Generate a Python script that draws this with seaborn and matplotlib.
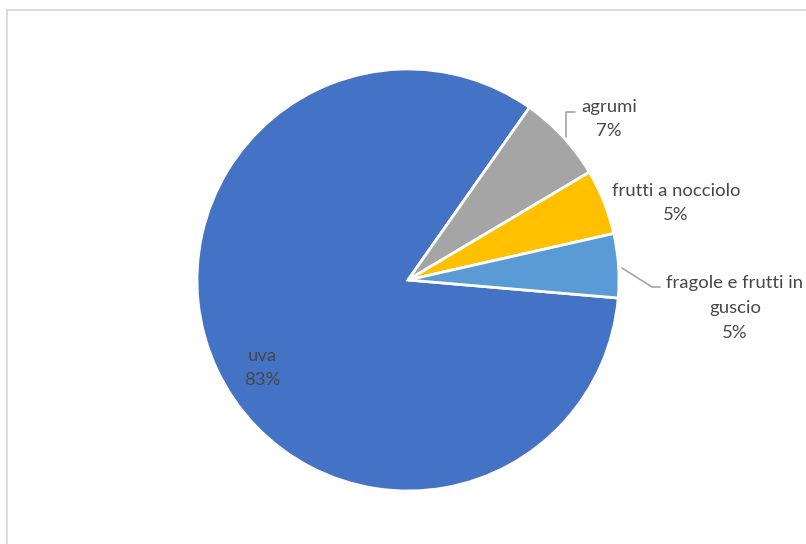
import matplotlib
matplotlib.use("Agg")
import matplotlib.pyplot as plt
import seaborn as sns
from matplotlib.patches import Rectangle
from matplotlib.lines import Line2D

categories = ["uva", "agrumi", "frutti a nocciolo", "fragole e frutti in\nguscio"]
values = [83.4, 6.7, 5.0, 4.9]
pct_labels = ["83%", "7%", "5%", "5%"]
colors = ["#4472C4", "#A5A5A5", "#FFC000", "#5B9BD5"]

sns.set_theme(style="white")
plt.rcParams['font.family'] = ['Lato', 'DejaVu Sans']

W, H = 806, 544
fig = plt.figure(figsize=(W / 100, H / 100), dpi=100)
fig.patch.set_facecolor("white")

# chart border (partially cropped at right/bottom)
fig.patches.append(Rectangle((7 / W, -0.05), 1.2, (H - 10) / H + 0.05,
                             transform=fig.transFigure, fill=False,
                             edgecolor="#D9D9D9", linewidth=1.3))

cx, cy, r = 408, H - 280, 211
ax = fig.add_axes([(cx - r) / W, (cy - r) / H, 2 * r / W, 2 * r / H])
wedges, _ = ax.pie(values, colors=colors, startangle=-4.9, counterclock=False,
                   wedgeprops=dict(edgecolor="white", linewidth=2.0))
ax.set_xlim(-1, 1)
ax.set_ylim(-1, 1)
ax.set_aspect("equal")
ax.axis("off")

txtc = "#474747"
fs = 13.3

def px(x, y):
    return (x / W, 1 - y / H)

# label texts (figure coords)
label_pos = [(262, 368), (609, 119), (676, 203), (735, 308)]
for cat, pct, (lx, ly) in zip(categories, pct_labels, label_pos):
    fig.text(*px(lx, ly), f"{cat}\n{pct}", ha="center", va="center",
             fontsize=fs, color=txtc, linespacing=1.68)

# leader lines
lc = "#A6A6A6"
for xs, ys in [([566, 566, 575], [137, 112, 112]),
               ([622, 652, 660], [268, 287, 287])]:
    fig.lines.append(Line2D([x / W for x in xs], [1 - y / H for y in ys],
                            transform=fig.transFigure, color=lc, linewidth=1.2))

fig.savefig("out.png", dpi=100)
